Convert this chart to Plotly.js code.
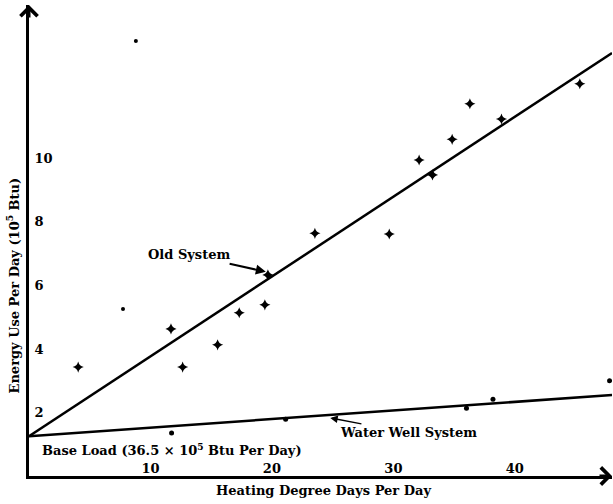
<!DOCTYPE html>
<html>
<head>
<meta charset="utf-8">
<script src="https://cdn.plot.ly/plotly-3.0.1.min.js"></script>
<style>html,body{margin:0;padding:0;background:#fff;}#chart{width:613px;height:504px;}</style>
</head>
<body>
<div id="chart"></div>
<script>
// Old system measurements (heating degree days per day, energy use 10^5 Btu)
const oldX = [4.05, 11.69, 12.65, 15.53, 17.31, 19.42, 19.67, 23.54, 29.66, 32.12, 33.22, 34.84, 36.3, 38.9, 45.35];
const oldY = [3.43, 4.63, 3.43, 4.13, 5.14, 5.39, 6.33, 7.64, 7.62, 9.95, 9.48, 10.6, 11.72, 11.24, 12.35];
// Water well system measurements
const wellX = [11.74, 21.13, 36.02, 38.2, 47.8];
const wellY = [1.35, 1.79, 2.13, 2.42, 3.0];
// Stray specks visible on the figure
const speckX = [8.8, 7.74];
const speckY = [13.7, 5.26];
// Fitted lines (endpoints)
const fitX = [0, 48];
const oldFitY = [1.25, 13.32];
const wellFitY = [1.25, 2.55];
// Axis ticks
const xTicks = [10, 20, 30, 40];
const yTicks = [2, 4, 6, 8, 10];

const FONT = 'DejaVu Serif';
const txt = {family: FONT, size: 13, color: '#000', weight: 'bold'};

const traces = [
  {x: fitX, y: oldFitY, mode: 'lines', line: {color: '#000', width: 2.5}, hoverinfo: 'skip'},
  {x: fitX, y: wellFitY, mode: 'lines', line: {color: '#000', width: 2.5}, hoverinfo: 'skip'},
  {x: oldX, y: oldY, mode: 'markers', marker: {symbol: 'star-diamond', size: 8, color: '#000'}},
  {x: wellX, y: wellY, mode: 'markers', marker: {symbol: 'circle', size: 5, color: '#000'}},
  {x: speckX, y: speckY, mode: 'markers', marker: {symbol: 'circle', size: 4, color: '#000'}}
];

const layout = {
  width: 613, height: 504,
  margin: {l: 29, r: 1, t: 5, b: 28},
  paper_bgcolor: '#fff', plot_bgcolor: '#fff',
  showlegend: false,
  font: txt,
  xaxis: {
    range: [0, 48], showgrid: false, zeroline: false,
    showline: true, linecolor: '#000', linewidth: 3,
    tickvals: xTicks, ticks: '', ticklabelposition: 'inside',
    tickfont: txt
  },
  yaxis: {
    range: [0, 14.83], showgrid: false, zeroline: false,
    showline: true, linecolor: '#000', linewidth: 3,
    tickvals: yTicks, ticks: '', ticklabelposition: 'inside',
    ticklabelstandoff: 5,
    tickfont: txt
  },
  annotations: [
    {xref: 'paper', yref: 'paper', x: 1, y: 0, ax: -14, ay: 0, showarrow: true, arrowhead: 4, arrowwidth: 3, arrowsize: 1.1, arrowcolor: '#000', text: ''},
    {xref: 'paper', yref: 'paper', x: 0, y: 1, ax: 0, ay: 14, showarrow: true, arrowhead: 4, arrowwidth: 3, arrowsize: 1.1, arrowcolor: '#000', text: ''},
    {xref: 'x', yref: 'y', x: 19.5, y: 6.43, ax: -77, ay: -17, showarrow: true, arrowhead: 2, arrowwidth: 2, arrowsize: 1, arrowcolor: '#000', text: 'Old System', font: txt},
    {xref: 'x', yref: 'y', x: 24.8, y: 1.83, ax: 78, ay: 15, showarrow: true, arrowhead: 2, arrowwidth: 1.5, arrowsize: 1, arrowcolor: '#000', text: 'Water Well System', font: txt},
    {xref: 'x', yref: 'y', x: 0.9, y: 0.82, xanchor: 'left', showarrow: false, text: 'Base Load (36.5 × 10<sup>5</sup> Btu Per Day)', font: txt},
    {xref: 'paper', yref: 'paper', x: 0.5, y: 0, xanchor: 'center', yanchor: 'middle', yshift: -14, xshift: 3, showarrow: false, text: 'Heating Degree Days Per Day', font: txt},
    {xref: 'paper', yref: 'paper', x: 0, y: 0.5, xanchor: 'center', yanchor: 'middle', xshift: -16, yshift: -45, textangle: -90, showarrow: false, text: 'Energy Use Per Day (10<sup>5</sup> Btu)', font: txt}
  ]
};

Plotly.newPlot('chart', traces, layout, {staticPlot: true, displayModeBar: false});
</script>
</body>
</html>
